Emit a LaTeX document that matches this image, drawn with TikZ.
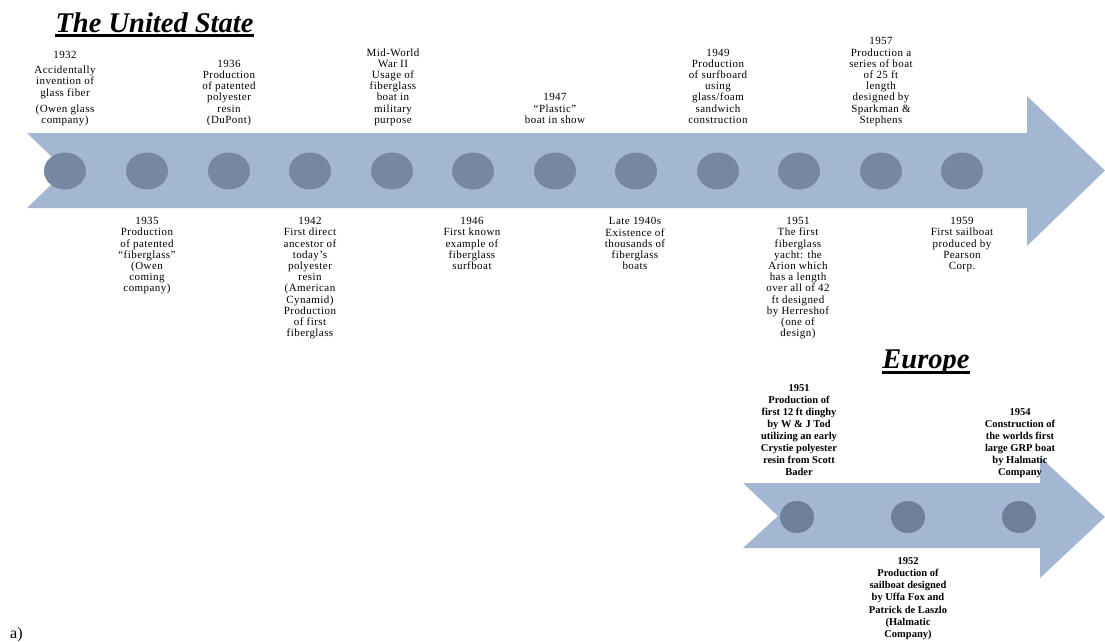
\documentclass[tikz,border=0pt]{standalone}
\usepackage{fontspec}
\setmainfont{Liberation Serif}
\newfontfamily\lblfam[LetterSpace=4]{Liberation Serif}
\usetikzlibrary{shapes.geometric}
\definecolor{bandc}{HTML}{A3B7D3}
\definecolor{dotc}{HTML}{7687A1}
\definecolor{dotd}{HTML}{6F7F98}
\newcommand\lblsize{\lblfam\fontsize{11}{11.2}\selectfont}
\newcommand\eusize{\fontsize{10.5}{12.1}\selectfont\bfseries}
\newcommand\ttlsize{\fontsize{28.5}{30}\selectfont\bfseries\itshape}
\tikzset{
  band/.style={fill=bandc, draw=none},
  dot/.style={ellipse, fill=dotc, draw=none, minimum width=42pt, minimum height=37pt, inner sep=0pt},
  eudot/.style={ellipse, fill=dotd, draw=none, minimum width=34pt, minimum height=32pt, inner sep=0pt},
  toplbl/.style={align=center, font=\lblsize, inner sep=0pt, anchor=south},
  botlbl/.style={align=center, font=\lblsize, inner sep=0pt, anchor=north},
  eutop/.style={align=center, font=\eusize, inner sep=0pt, anchor=south},
  eubot/.style={align=center, font=\eusize, inner sep=0pt, anchor=north},
  ttl/.style={font=\ttlsize, inner sep=0pt, anchor=base},
  uline/.style={line width=2.2pt, draw=black},
}
\begin{document}
\begin{tikzpicture}[x=1pt,y=-1pt]
\fill[white] (0,0) rectangle (1105,641);
\useasboundingbox (0,0) rectangle (1105,641);

% --- United States arrow
\fill[band] (27,133) -- (1027,133) -- (1027,96) -- (1105,170.5) -- (1027,246)
  -- (1027,208) -- (27,208) -- (66,170.5) -- cycle;
\foreach \i/\x in {1/65,2/147,3/229,4/310,5/392,6/473,7/555,8/636,9/718,10/799,11/881,12/962}
  \node[dot] (d\i) at (\x,171) {};

% title
\node[ttl] (us) at (154.5,32.5) {The United State};
\draw[uline] ([yshift=-3pt]us.base west) -- ([yshift=-3pt]us.base east);

% top labels
\node[toplbl] (t1) at (65,126.9) {1932\\[3.8pt]Accidentally\\invention of\\glass fiber\\[4.8pt](Owen glass\\company)\strut};
\node[toplbl] (t3) at (229,126.9) {1936\\Production\\of patented\\polyester\\resin\\(DuPont)\strut};
\node[toplbl] (t5) at (393,126.9) {Mid-World\\War II\\Usage of\\fiberglass\\boat in\\military\\purpose\strut};
\node[toplbl] (t7) at (555,126.9) {1947\\“Plastic”\\boat in show\strut};
\node[toplbl] (t9) at (718,126.9) {1949\\Production\\of surfboard\\using\\glass/foam\\sandwich\\construction\strut};
\node[toplbl] (t11) at (881,126.9) {1957\\Production a\\series of boat\\of 25 ft\\length\\designed by\\Sparkman \&\\Stephens\strut};

% bottom labels
\node[botlbl] (b2) at (147,217.3) {1935\\Production\\of patented\\“fiberglass”\\(Owen\\coming\\company)};
\node[botlbl] (b4) at (310,217.3) {1942\\First direct\\ancestor of\\today’s\\polyester\\resin\\(American\\Cynamid)\\Production\\of first\\fiberglass};
\node[botlbl] (b6) at (472,217.3) {1946\\First known\\example of\\fiberglass\\surfboat};
\node[botlbl] (b8) at (635,217.3) {Late 1940s\\Existence of\\thousands of\\fiberglass\\boats};
\node[botlbl] (b10) at (798,217.3) {1951\\The first\\fiberglass\\yacht: the\\Arion which\\has a length\\over all of 42\\ft designed\\by Herreshof\\(one of\\design)};
\node[botlbl] (b12) at (962,217.3) {1959\\First sailboat\\produced by\\Pearson\\Corp.};

% --- Europe arrow
\fill[band] (743,483) -- (1040,483) -- (1040,457) -- (1105,517) -- (1040,578)
  -- (1040,548) -- (743,548) -- (778,516) -- cycle;
\node[eudot] (e1) at (797,517) {};
\node[eudot] (e2) at (908,517) {};
\node[eudot] (e3) at (1019,517) {};

\node[ttl] (eu) at (926,368) {Europe};
\draw[uline] ([yshift=-4.5pt]eu.base west) -- ([yshift=-4.5pt]eu.base east);

\node[eutop] (f1) at (799,479.6) {1951\\Production of\\first 12 ft dinghy\\by W \& J Tod\\utilizing an early\\Crystie polyester\\resin from Scott\\Bader\strut};
\node[eutop] (f3) at (1020,479.6) {1954\\Construction of\\the worlds first\\large GRP boat\\by Halmatic\\Company\strut};
\node[eubot] (f2) at (908,557.5) {1952\\Production of\\sailboat designed\\by Uffa Fox and\\Patrick de Laszlo\\(Halmatic\\Company)};

\node[anchor=base west, font=\fontsize{16}{18}\selectfont, inner sep=0pt] (lab) at (10,638) {a)};
\end{tikzpicture}
\end{document}
